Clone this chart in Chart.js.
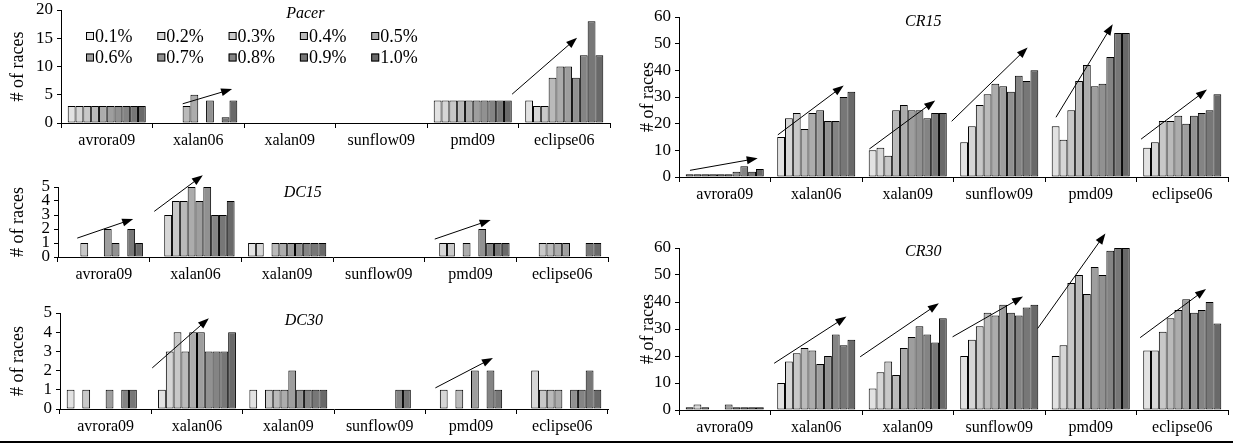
<!DOCTYPE html>
<html>
<head>
<meta charset="utf-8">
<script src="https://cdn.jsdelivr.net/npm/chart.js@4.4.0/dist/chart.umd.min.js"></script>
<style>
  body { margin: 0; background: #fff; }
  #wrap { position: relative; width: 1233px; height: 445px; background: #fff; }
  .box { position: absolute; }
  #rule { position: absolute; left: 0; top: 441px; width: 1233px; height: 2px; background: #000; }
  #warm { position: absolute; left: -999px; top: 0; font-family: "Liberation Serif"; }
  #warm i { font-style: italic; }
</style>
</head>
<body>
<div id="warm">avrora09 <i>Pacer</i></div>
<div id="wrap">
  <div class="box" style="left:0;top:0;width:620px;height:150px"><canvas id="pacer"></canvas></div>
  <div class="box" style="left:0;top:170px;width:620px;height:115px"><canvas id="dc15"></canvas></div>
  <div class="box" style="left:0;top:295px;width:620px;height:145px"><canvas id="dc30"></canvas></div>
  <div class="box" style="left:625px;top:0;width:608px;height:205px"><canvas id="cr15"></canvas></div>
  <div class="box" style="left:625px;top:225px;width:608px;height:215px"><canvas id="cr30"></canvas></div>
  <div id="rule"></div>
</div>
<script>
// benchmarks on the x axis, sampling rates are the series
var benchmarks = ['avrora09', 'xalan06', 'xalan09', 'sunflow09', 'pmd09', 'eclipse06'];
var rates = ['0.1%', '0.2%', '0.3%', '0.4%', '0.5%', '0.6%', '0.7%', '0.8%', '0.9%', '1.0%'];
var grays = ['#e2e2e2', '#d6d6d6', '#c8c8c8', '#bababa', '#acacac', '#9e9e9e', '#919191', '#848484', '#777777', '#696969'];

// one row per benchmark, one value per rate (0.1% .. 1.0%)
var pacer = [
  [3, 3, 3, 3, 3, 3, 3, 3, 3, 3],
  [0, 0, 0, 3, 5, 0, 4, 0, 1, 4],
  [0, 0, 0, 0, 0, 0, 0, 0, 0, 0],
  [0, 0, 0, 0, 0, 0, 0, 0, 0, 0],
  [4, 4, 4, 4, 4, 4, 4, 4, 4, 4],
  [4, 3, 3, 8, 10, 10, 8, 12, 18, 12]
];
var dc15 = [
  [0, 0, 1, 0, 0, 2, 1, 0, 2, 1],
  [0, 3, 4, 4, 5, 4, 5, 3, 3, 4],
  [1, 1, 0, 1, 1, 1, 1, 1, 1, 1],
  [0, 0, 0, 0, 0, 0, 0, 0, 0, 0],
  [0, 1, 1, 0, 1, 0, 2, 1, 1, 1],
  [0, 0, 1, 1, 1, 1, 0, 0, 1, 1]
];
var dc30 = [
  [1, 0, 1, 0, 0, 1, 0, 1, 1, 0],
  [1, 3, 4, 3, 4, 4, 3, 3, 3, 4],
  [1, 0, 1, 1, 1, 2, 1, 1, 1, 1],
  [0, 0, 0, 0, 0, 0, 0, 1, 1, 0],
  [0, 1, 0, 1, 0, 2, 0, 2, 1, 0],
  [0, 2, 1, 1, 1, 0, 1, 1, 2, 1]
];
var cr15 = [
  [1, 1, 1, 1, 1, 1, 2, 4, 2, 3],
  [15, 22, 24, 18, 24, 25, 21, 21, 30, 32],
  [10, 11, 8, 25, 27, 25, 25, 22, 24, 24],
  [13, 19, 27, 31, 35, 34, 32, 38, 36, 40],
  [19, 14, 25, 36, 42, 34, 35, 45, 54, 54],
  [11, 13, 21, 21, 23, 20, 23, 24, 25, 31]
];
var cr30 = [
  [1, 2, 1, 0, 0, 2, 1, 1, 1, 1],
  [10, 18, 21, 23, 22, 17, 20, 28, 24, 26],
  [8, 14, 18, 13, 23, 27, 31, 28, 25, 34],
  [20, 26, 31, 36, 35, 39, 36, 35, 38, 39],
  [20, 24, 47, 50, 43, 53, 50, 59, 60, 60],
  [22, 22, 29, 34, 37, 41, 36, 37, 40, 32]
];

// trend arrows: [from category, from value, to category, to value]
var pacerArrows = [[0.83, 3.4, 1.37, 6.0], [4.43, 5.1, 5.14, 15.1]];
var dc15Arrows = [[-0.29, 1.35, 0.32, 2.72], [0.55, 3.26, 1.08, 5.84], [3.61, 1.28, 4.22, 2.65]];
var dc30Arrows = [[0.51, 2.14, 1.13, 4.73], [3.61, 1.1, 4.24, 2.66]];
var cr15Arrows = [[-0.38, 2.5, 0.36, 7], [0.58, 15.8, 1.3, 34.3], [1.58, 10.5, 2.3, 28.7],
                  [2.48, 20.9, 3.31, 48.6], [3.62, 22.4, 4.24, 57.3], [4.55, 14.2, 5.27, 32.8]];
var cr30Arrows = [[0.54, 17.3, 1.33, 34.6], [1.48, 19.7, 2.34, 39.5], [2.49, 27.1, 3.26, 42],
                  [3.42, 30.2, 4.16, 65.4], [4.54, 26.8, 5.26, 44.8]];

var serif = '"Liberation Serif"';

var arrowPlugin = {
  id: 'arrows',
  afterDatasetsDraw: function (chart, args, opts) {
    var ctx = chart.ctx, sx = chart.scales.x, sy = chart.scales.y;
    (opts.list || []).forEach(function (a) {
      var x0 = sx.getPixelForValue(a[0]), y0 = sy.getPixelForValue(a[1]);
      var x1 = sx.getPixelForValue(a[2]), y1 = sy.getPixelForValue(a[3]);
      var ang = Math.atan2(y1 - y0, x1 - x0), c = Math.cos(ang), s = Math.sin(ang);
      ctx.save();
      ctx.strokeStyle = '#000';
      ctx.fillStyle = '#000';
      ctx.lineWidth = 1;
      ctx.beginPath();
      ctx.moveTo(x0, y0);
      ctx.lineTo(x1 - 8 * c, y1 - 8 * s);
      ctx.stroke();
      ctx.beginPath();
      ctx.moveTo(x1, y1);
      ctx.lineTo(x1 - 11 * c + 4 * s, y1 - 11 * s - 4 * c);
      ctx.lineTo(x1 - 11 * c - 4 * s, y1 - 11 * s + 4 * c);
      ctx.closePath();
      ctx.fill();
      ctx.restore();
    });
  }
};

// panel name in italics + the legend inside the Pacer panel
var decorPlugin = {
  id: 'decor',
  afterDraw: function (chart, args, opts) {
    var ctx = chart.ctx, ca = chart.chartArea;
    ctx.save();
    ctx.fillStyle = '#000';
    ctx.font = 'italic 16px ' + serif;
    ctx.textAlign = 'center';
    ctx.textBaseline = 'middle';
    ctx.fillText(opts.title, ca.left + ca.width * 0.445, ca.top + opts.titleDy);
    if (opts.legend) {
      ctx.font = '18px ' + serif;
      ctx.textAlign = 'left';
      chart.data.datasets.forEach(function (ds, i) {
        var bx = ca.left + 25 + (i % 5) * 71.3;
        var by = ca.top + 26 + Math.floor(i / 5) * 21.5;
        ctx.fillStyle = ds.backgroundColor;
        ctx.fillRect(bx, by - 4, 8, 8);
        ctx.strokeStyle = '#000';
        ctx.lineWidth = 1;
        ctx.strokeRect(bx + 0.5, by - 3.5, 7, 7);
        ctx.fillStyle = '#000';
        ctx.fillText(ds.label, bx + 9, by + 1);
      });
    }
    ctx.restore();
  }
};

function panel(id, rows, yMax, yStep, title, arrows, lay) {
  var datasets = rates.map(function (r, i) {
    return {
      label: r,
      data: rows.map(function (row) { return row[i]; }),
      backgroundColor: grays[i],
      borderColor: '#000',
      borderWidth: 1,
      borderSkipped: false,
      categoryPercentage: 0.853,
      barPercentage: 1
    };
  });
  return new Chart(document.getElementById(id), {
    type: 'bar',
    data: { labels: benchmarks, datasets: datasets },
    plugins: [arrowPlugin, decorPlugin],
    options: {
      responsive: true,
      maintainAspectRatio: false,
      animation: false,
      devicePixelRatio: 1,
      layout: { padding: { top: lay.top, right: lay.right, left: 0, bottom: 0 } },
      plugins: {
        legend: { display: false },
        tooltip: { enabled: false },
        arrows: { list: arrows },
        decor: { title: title, titleDy: lay.titleDy, legend: lay.legend }
      },
      scales: {
        x: {
          afterFit: function (s) { s.height = lay.xh; },
          grid: { display: true, drawOnChartArea: false, color: '#000', tickLength: 5, offset: true },
          border: { display: true, color: '#000', width: 1 },
          ticks: { color: '#000', font: { family: serif, size: 16 }, padding: 3, maxRotation: 0 }
        },
        y: {
          min: 0,
          max: yMax,
          afterFit: function (s) { s.width = lay.yw; },
          grid: { display: true, drawOnChartArea: false, color: '#000', tickLength: 4 },
          border: { display: true, color: '#000', width: 1 },
          ticks: { stepSize: yStep, color: '#000', font: { family: serif, size: 17, lineHeight: 0.6 }, padding: 4 },
          title: {
            display: true,
            text: '# of races',
            color: '#000',
            font: { family: serif, size: 18 },
            padding: { top: lay.tp, bottom: 0 }
          }
        }
      }
    }
  });
}

function drawAll() {
  panel('pacer', pacer, 20, 5, 'Pacer', pacerArrows,
    { top: 10, right: 10, xh: 27, yw: 61, tp: 7, titleDy: 4, legend: true });
  panel('dc15', dc15, 5, 1, 'DC15', dc15Arrows,
    { top: 17, right: 12, xh: 28, yw: 58, tp: 7, titleDy: 6, legend: false });
  panel('dc30', dc30, 5, 1, 'DC30', dc30Arrows,
    { top: 18, right: 12, xh: 31, yw: 60, tp: 7, titleDy: 8, legend: false });
  panel('cr15', cr15, 60, 10, 'CR15', cr15Arrows,
    { top: 17, right: 5, xh: 28, yw: 54, tp: 12, titleDy: 5, legend: false });
  panel('cr30', cr30, 60, 10, 'CR30', cr30Arrows,
    { top: 23, right: 5, xh: 30, yw: 54, tp: 12, titleDy: 4, legend: false });
}

Promise.all([
  document.fonts.load('16px "Liberation Serif"'),
  document.fonts.load('italic 16px "Liberation Serif"')
]).then(drawAll, drawAll);
</script>
</body>
</html>
